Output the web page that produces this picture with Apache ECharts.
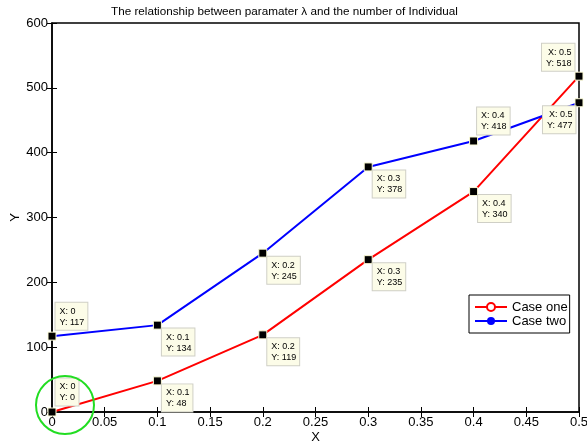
<!DOCTYPE html>
<html>
<head>
<meta charset="utf-8">
<script src="https://cdn.jsdelivr.net/npm/echarts@6/dist/echarts.min.js"></script>
<style>
  html, body { margin: 0; padding: 0; background: #fff; }
  #chart { width: 587px; height: 446px; }
</style>
</head>
<body>
<div id="chart"></div>
<script>
// values
var xValues = [0, 0.1, 0.2, 0.3, 0.4, 0.5];
var caseOne = [0, 48, 119, 235, 340, 518];
var caseTwo = [117, 134, 245, 378, 418, 477];

var FONT = 'Liberation Sans, Arial, sans-serif';

function pairs(ys) {
    return xValues.map(function (x, i) { return [x, ys[i]]; });
}

// where each data tip box sits relative to its marker (style only)
var tipLayoutOne = ['ur', 'br', 'br', 'br', 'br', 'ul'];
var tipLayoutTwo = ['ur', 'br', 'br', 'br', 'ur', 'bl'];

function tipLabel(place) {
    var map = {
        ur: { position: [8, -2], align: 'left', verticalAlign: 'bottom' },
        br: { position: [9, 8], align: 'left', verticalAlign: 'top' },
        ul: { position: [0, -1], align: 'right', verticalAlign: 'bottom' },
        bl: { position: [1, 8], align: 'right', verticalAlign: 'top' }
    };
    return map[place];
}

function tipData(ys, layout) {
    return xValues.map(function (x, i) {
        return { value: [x, ys[i]], label: tipLabel(layout[i]) };
    });
}

var tipLabelStyle = {
    show: true,
    formatter: function (p) { return 'X: ' + p.value[0] + '\nY: ' + p.value[1]; },
    fontFamily: FONT,
    fontSize: 9,
    lineHeight: 11,
    color: '#000',
    backgroundColor: '#fcfce8',
    borderColor: '#cfcfc6',
    borderWidth: 1,
    padding: [3, 3, 2, 4]
};

var chart = echarts.init(document.getElementById('chart'));

var option = {
    animation: false,
    title: {
        text: 'The relationship between paramater λ and the number of Individual',
        left: 106,
        top: 1,
        textStyle: { fontFamily: FONT, fontSize: 11.7, fontWeight: 'normal', color: '#000' }
    },
    grid: {
        left: 52, right: 8, top: 23, bottom: 34,
        outerBoundsMode: 'none',
        containLabel: false,
        show: true, borderColor: '#000', borderWidth: 1.5
    },
    legend: {
        data: ['Case one', 'Case two'],
        orient: 'vertical',
        left: 469, top: 295,
        itemWidth: 32, itemHeight: 10, itemGap: 0,
        padding: [5, 2, 5, 5],
        backgroundColor: '#fff',
        borderColor: '#000', borderWidth: 1,
        textStyle: { fontFamily: FONT, fontSize: 13, lineHeight: 14, color: '#000' }
    },
    xAxis: [{
        type: 'value', min: 0, max: 0.5, interval: 0.05,
        name: 'X', nameLocation: 'middle', nameGap: 19,
        nameMoveOverlap: false,
        nameTextStyle: { fontFamily: FONT, fontSize: 13, color: '#000' },
        axisLine: { lineStyle: { color: '#000', width: 1.5 } },
        axisTick: { inside: true, length: 5, lineStyle: { color: '#000' } },
        axisLabel: { fontFamily: FONT, fontSize: 13, color: '#000', margin: 4 },
        splitLine: { show: false }
    }, {
        type: 'value', min: 0, max: 0.5, interval: 0.05, position: 'top',
        axisLine: { show: false },
        axisTick: { inside: true, length: 5, lineStyle: { color: '#000' } },
        axisLabel: { show: false },
        splitLine: { show: false }
    }],
    yAxis: [{
        type: 'value', min: 0, max: 600, interval: 100,
        name: 'Y', nameLocation: 'middle', nameGap: 30,
        nameMoveOverlap: false,
        nameTextStyle: { fontFamily: FONT, fontSize: 13, color: '#000' },
        axisLine: { show: true, lineStyle: { color: '#000', width: 1.5 } },
        axisTick: { show: true, inside: true, length: 5, lineStyle: { color: '#000' } },
        axisLabel: { fontFamily: FONT, fontSize: 13, color: '#000', margin: 4 },
        splitLine: { show: false }
    }, {
        type: 'value', min: 0, max: 600, interval: 100, position: 'right',
        axisLine: { show: false },
        axisTick: { show: true, inside: true, length: 5, lineStyle: { color: '#000' } },
        axisLabel: { show: false },
        splitLine: { show: false }
    }],
    series: [{
        name: 'Case one',
        type: 'line',
        data: pairs(caseOne),
        symbol: 'emptyCircle', symbolSize: 6,
        itemStyle: { color: '#ff0000', borderWidth: 1.5 },
        lineStyle: { color: '#ff0000', width: 2 },
        z: 2
    }, {
        name: 'Case two',
        type: 'line',
        data: pairs(caseTwo),
        symbol: 'circle', symbolSize: 6,
        itemStyle: { color: '#0000ff' },
        lineStyle: { color: '#0000ff', width: 2 },
        z: 2
    }, {
        name: 'tips one',
        type: 'scatter',
        data: tipData(caseOne, tipLayoutOne),
        symbol: 'rect', symbolSize: 8,
        itemStyle: { color: '#000', opacity: 1, borderColor: '#fcfcd8', borderWidth: 1 },
        label: tipLabelStyle,
        z: 5
    }, {
        name: 'tips two',
        type: 'scatter',
        data: tipData(caseTwo, tipLayoutTwo),
        symbol: 'rect', symbolSize: 8,
        itemStyle: { color: '#000', opacity: 1, borderColor: '#fcfcd8', borderWidth: 1 },
        label: tipLabelStyle,
        z: 5
    }],
    graphic: [{
        type: 'circle',
        shape: { cx: 65, cy: 405, r: 29 },
        style: { fill: 'none', stroke: '#22dd22', lineWidth: 2 },
        z: 10
    }]
};

chart.setOption(option);
</script>
</body>
</html>
